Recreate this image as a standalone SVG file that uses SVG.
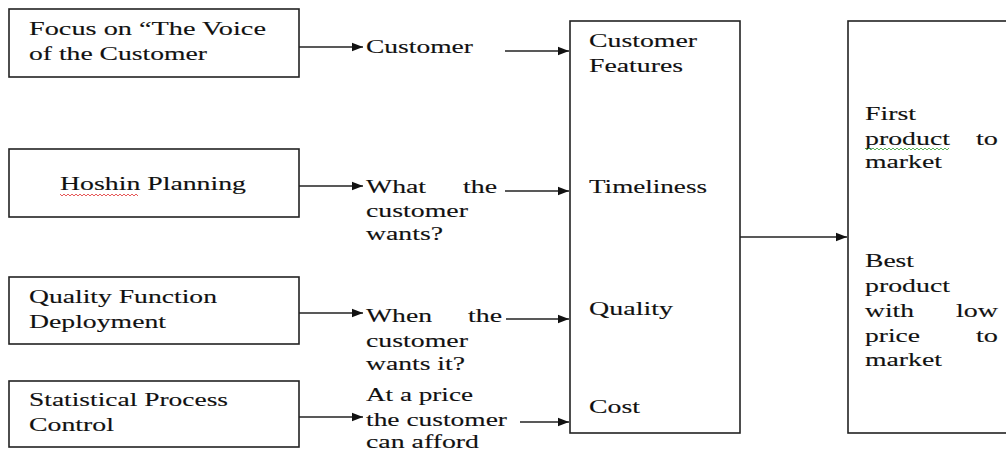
<svg xmlns="http://www.w3.org/2000/svg" width="1006" height="452" viewBox="0 0 1006 452">
<style>
.box{fill:#fff;stroke:#222;stroke-width:1.6}
.t{font-family:"Liberation Serif","DejaVu Serif","Times New Roman",serif;font-size:19px;fill:#111;stroke:#111;stroke-width:0.12}
.c{stroke:#222;stroke-width:1.5;fill:none}
</style>
<defs>
<marker id="ah" markerUnits="userSpaceOnUse" markerWidth="12" markerHeight="10" refX="11" refY="5" orient="auto">
<path d="M0,0.8 L11,5 L0,9.2 Z" fill="#111"/>
</marker>
</defs>
<rect width="1006" height="452" fill="#fff"/>

<g id="connectors">
<line class="c" x1="299" y1="47" x2="363" y2="47" marker-end="url(#ah)"/>
<line class="c" x1="299" y1="186" x2="363" y2="186" marker-end="url(#ah)"/>
<line class="c" x1="299" y1="313" x2="363" y2="313" marker-end="url(#ah)"/>
<line class="c" x1="299" y1="417" x2="363" y2="417" marker-end="url(#ah)"/>
<line class="c" x1="505" y1="51" x2="569" y2="51" marker-end="url(#ah)"/>
<line class="c" x1="505" y1="191" x2="569" y2="191" marker-end="url(#ah)"/>
<line class="c" x1="506" y1="319" x2="569" y2="319" marker-end="url(#ah)"/>
<line class="c" x1="520" y1="422" x2="569" y2="422" marker-end="url(#ah)"/>
<line class="c" x1="738" y1="237" x2="847" y2="237" marker-end="url(#ah)"/>
</g>

<g id="node-voice">
<rect class="box" x="9" y="9" width="290" height="68"/>
<text class="t" x="29" y="35" textLength="237" lengthAdjust="spacingAndGlyphs">Focus on “The Voice</text>
<text class="t" x="29" y="60" textLength="178" lengthAdjust="spacingAndGlyphs">of the Customer</text>
</g>

<g id="node-hoshin">
<rect class="box" x="9" y="149" width="290" height="68"/>
<text class="t" x="60" y="190" textLength="186" lengthAdjust="spacingAndGlyphs">Hoshin Planning</text>
<path d="M60,194 l2,2 l2,-2 l2,2 l2,-2 l2,2 l2,-2 l2,2 l2,-2 l2,2 l2,-2 l2,2 l2,-2 l2,2 l2,-2 l2,2 l2,-2 l2,2 l2,-2 l2,2 l2,-2 l2,2 l2,-2 l2,2 l2,-2 l2,2 l2,-2 l2,2 l2,-2 l2,2 l2,-2 l2,2 l2,-2 l2,2 l2,-2 l2,2 l2,-2 l2,2 l2,-2 l2,2" fill="none" stroke="#e03030" stroke-width="0.8"/>
</g>

<g id="node-qfd">
<rect class="box" x="9" y="277" width="290" height="67"/>
<text class="t" x="29" y="303" textLength="188" lengthAdjust="spacingAndGlyphs">Quality Function</text>
<text class="t" x="29" y="328" textLength="137" lengthAdjust="spacingAndGlyphs">Deployment</text>
</g>

<g id="node-spc">
<rect class="box" x="9" y="381" width="290" height="66"/>
<text class="t" x="29" y="406" textLength="199" lengthAdjust="spacingAndGlyphs">Statistical Process</text>
<text class="t" x="29" y="431" textLength="85" lengthAdjust="spacingAndGlyphs">Control</text>
</g>

<g id="label-customer">
<text class="t" x="366" y="53" textLength="107" lengthAdjust="spacingAndGlyphs">Customer</text>
</g>

<g id="label-what">
<text class="t" x="366" y="193" textLength="60" lengthAdjust="spacingAndGlyphs">What</text>
<text class="t" x="463" y="193" textLength="34" lengthAdjust="spacingAndGlyphs">the</text>
<text class="t" x="366" y="217" textLength="102" lengthAdjust="spacingAndGlyphs">customer</text>
<text class="t" x="366" y="240" textLength="77" lengthAdjust="spacingAndGlyphs">wants?</text>
</g>

<g id="label-when">
<text class="t" x="366" y="322" textLength="66" lengthAdjust="spacingAndGlyphs">When</text>
<text class="t" x="468" y="322" textLength="34" lengthAdjust="spacingAndGlyphs">the</text>
<text class="t" x="366" y="347" textLength="102" lengthAdjust="spacingAndGlyphs">customer</text>
<text class="t" x="366" y="370" textLength="99" lengthAdjust="spacingAndGlyphs">wants it?</text>
</g>

<g id="label-price">
<text class="t" x="366" y="401" textLength="107" lengthAdjust="spacingAndGlyphs">At a price</text>
<text class="t" x="366" y="426" textLength="141" lengthAdjust="spacingAndGlyphs">the customer</text>
<text class="t" x="366" y="448" textLength="113" lengthAdjust="spacingAndGlyphs">can afford</text>
</g>

<g id="node-attributes">
<rect class="box" x="570" y="21" width="170" height="412"/>
<text class="t" x="589" y="47" textLength="108" lengthAdjust="spacingAndGlyphs">Customer</text>
<text class="t" x="589" y="72" textLength="94" lengthAdjust="spacingAndGlyphs">Features</text>
<text class="t" x="589" y="193" textLength="118" lengthAdjust="spacingAndGlyphs">Timeliness</text>
<text class="t" x="589" y="315" textLength="84" lengthAdjust="spacingAndGlyphs">Quality</text>
<text class="t" x="589" y="413" textLength="51" lengthAdjust="spacingAndGlyphs">Cost</text>
</g>

<g id="node-outcome">
<rect class="box" x="848" y="21" width="170" height="412"/>
<text class="t" x="865" y="120" textLength="51" lengthAdjust="spacingAndGlyphs">First</text>
<text class="t" x="865" y="145" textLength="85" lengthAdjust="spacingAndGlyphs">product</text>
<text class="t" x="976" y="145" textLength="22" lengthAdjust="spacingAndGlyphs">to</text>
<path d="M865,148 l2,2 l2,-2 l2,2 l2,-2 l2,2 l2,-2 l2,2 l2,-2 l2,2 l2,-2 l2,2 l2,-2 l2,2 l2,-2 l2,2 l2,-2 l2,2 l2,-2 l2,2 l2,-2 l2,2 l2,-2 l2,2 l2,-2 l2,2 l2,-2 l2,2 l2,-2 l2,2 l2,-2 l2,2 l2,-2 l2,2 l2,-2 l2,2 l2,-2 l2,2 l2,-2 l2,2 l2,-2 l2,2 l2,-2" fill="none" stroke="#30a030" stroke-width="0.8"/>
<text class="t" x="865" y="168" textLength="77" lengthAdjust="spacingAndGlyphs">market</text>
<text class="t" x="865" y="267" textLength="49" lengthAdjust="spacingAndGlyphs">Best</text>
<text class="t" x="865" y="292" textLength="85" lengthAdjust="spacingAndGlyphs">product</text>
<text class="t" x="865" y="317" textLength="49" lengthAdjust="spacingAndGlyphs">with</text>
<text class="t" x="956" y="317" textLength="42" lengthAdjust="spacingAndGlyphs">low</text>
<text class="t" x="865" y="342" textLength="55" lengthAdjust="spacingAndGlyphs">price</text>
<text class="t" x="976" y="342" textLength="22" lengthAdjust="spacingAndGlyphs">to</text>
<text class="t" x="865" y="366" textLength="77" lengthAdjust="spacingAndGlyphs">market</text>
</g>
</svg>
